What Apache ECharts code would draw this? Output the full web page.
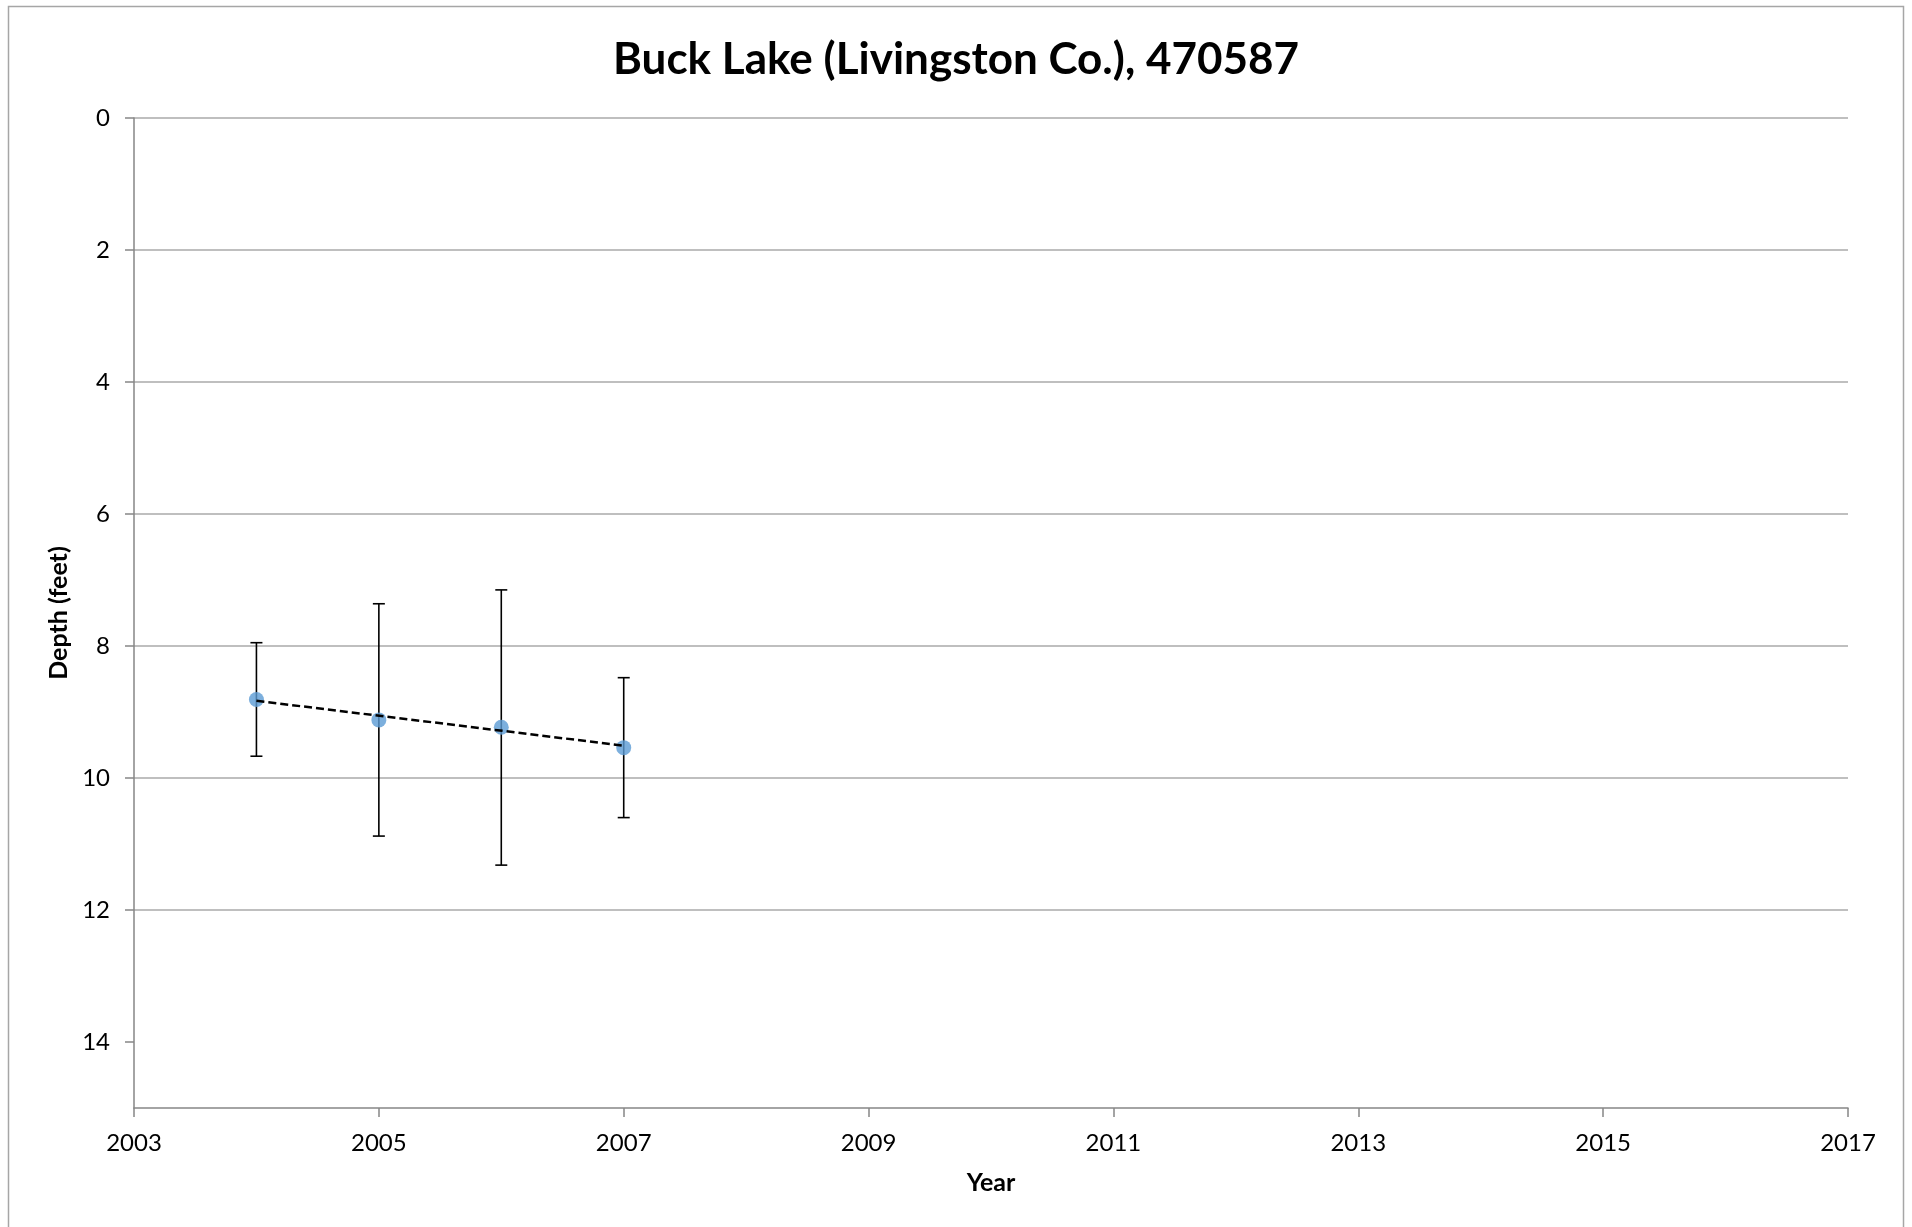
<!DOCTYPE html>
<html>
<head>
<meta charset="utf-8">
<script src="https://cdn.jsdelivr.net/npm/echarts@6/dist/echarts.min.js"></script>
<style>
html,body{margin:0;padding:0;background:#fff;}
#chart{width:1912px;height:1227px;}
</style>
</head>
<body>
<div id="chart"></div>
<script>
// Data
const years = [2004, 2005, 2006, 2007];
const depthMean = [8.81, 9.12, 9.23, 9.54];
const depthShallow = [7.95, 7.36, 7.15, 8.48];
const depthDeep = [9.67, 10.88, 11.32, 10.60];
const trendYears = [2004, 2007];
const trendDepth = [8.83, 9.51];
const xTicks = [2003, 2005, 2007, 2009, 2011, 2013, 2015, 2017];
const yTicks = [0, 2, 4, 6, 8, 10, 12, 14];

const FONT = 'Lato, "Liberation Sans", sans-serif';

const chart = echarts.init(document.getElementById('chart'), null, {renderer: 'canvas'});

const meanData = years.map((y, i) => [y, depthMean[i]]);
const errData = years.map((y, i) => [y, depthShallow[i], depthDeep[i]]);
const trendData = trendYears.map((y, i) => [y, trendDepth[i]]);

const option = {
  backgroundColor: '#ffffff',
  animation: false,
  title: {
    text: 'Buck Lake (Livingston Co.), 470587',
    left: 'center',
    top: 33,
    textStyle: {fontFamily: FONT, fontWeight: 'bold', fontSize: 44, color: '#000'}
  },
  graphic: [{
    type: 'rect',
    shape: {x: 8.5, y: 6.5, width: 1895, height: 1240},
    style: {fill: 'none', stroke: '#a6a6a6', lineWidth: 1.5},
    silent: true, z: -10
  }],
  grid: {left: 134, right: 64, top: 118, bottom: 119, containLabel: false},
  xAxis: {
    type: 'value',
    min: 2003, max: 2017, interval: 2,
    name: 'Year',
    nameLocation: 'middle',
    nameGap: 62,
    nameTextStyle: {fontFamily: FONT, fontWeight: 'bold', fontSize: 25, color: '#000'},
    axisLine: {show: true, onZero: false, lineStyle: {color: '#868686', width: 1.5}},
    axisTick: {show: true, length: 9, lineStyle: {color: '#868686', width: 1.5}},
    axisLabel: {
      fontFamily: FONT, fontSize: 24, color: '#000', margin: 23,
      customValues: xTicks,
      formatter: v => String(v)
    },
    splitLine: {show: false}
  },
  yAxis: {
    type: 'value',
    inverse: true,
    min: 0, max: 15, interval: 2,
    name: 'Depth (feet)',
    nameLocation: 'middle',
    nameGap: 63,
    nameRotate: 90,
    nameTextStyle: {fontFamily: FONT, fontWeight: 'bold', fontSize: 25, color: '#000'},
    axisLine: {show: true, onZero: false, lineStyle: {color: '#868686', width: 1.5}},
    axisTick: {show: true, length: 9, customValues: yTicks, lineStyle: {color: '#868686', width: 1.5}},
    axisLabel: {
      fontFamily: FONT, fontSize: 24, color: '#000', margin: 24,
      customValues: yTicks,
      formatter: v => String(v)
    },
    splitLine: {show: true, showMaxLine: false, lineStyle: {color: '#bfbfbf', width: 2}}
  },
  series: [
    {
      name: 'range',
      type: 'custom',
      data: errData,
      encode: {x: 0, y: [1, 2]},
      z: 2,
      renderItem: function (params, api) {
        const x = api.value(0);
        const pTop = api.coord([x, api.value(1)]);
        const pBot = api.coord([x, api.value(2)]);
        const w = 6;
        const st = {stroke: '#000', lineWidth: 1.6};
        return {
          type: 'group',
          children: [
            {type: 'line', shape: {x1: pTop[0], y1: pTop[1], x2: pBot[0], y2: pBot[1]}, style: st},
            {type: 'line', shape: {x1: pTop[0] - w, y1: pTop[1], x2: pTop[0] + w, y2: pTop[1]}, style: st},
            {type: 'line', shape: {x1: pBot[0] - w, y1: pBot[1], x2: pBot[0] + w, y2: pBot[1]}, style: st}
          ]
        };
      }
    },
    {
      name: 'mean',
      type: 'scatter',
      data: meanData,
      symbol: 'circle',
      symbolSize: 15,
      itemStyle: {color: '#5b9bd5'},
      z: 3
    },
    {
      name: 'trend',
      type: 'line',
      data: trendData,
      showSymbol: false,
      symbol: 'none',
      lineStyle: {color: '#000', width: 2.5, type: [8, 4]},
      z: 4
    }
  ]
};
chart.setOption(option);
</script>
</body>
</html>
